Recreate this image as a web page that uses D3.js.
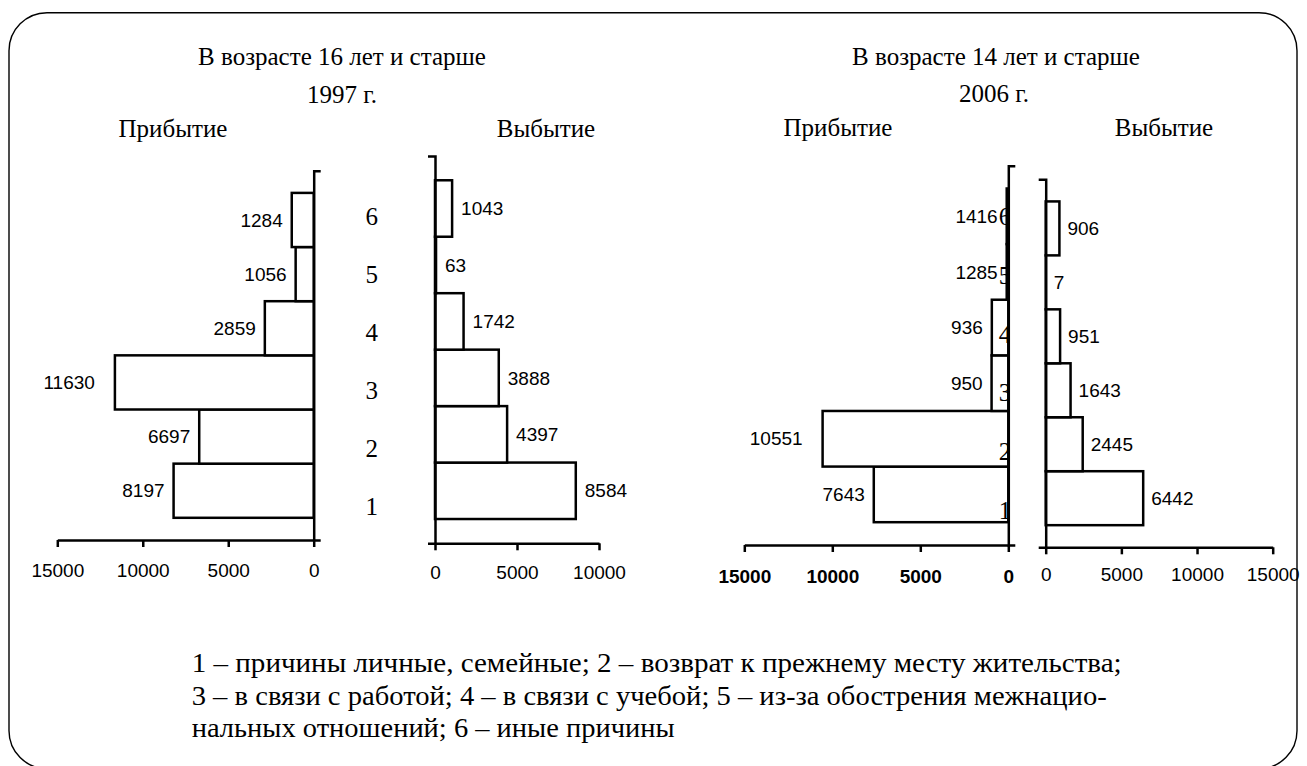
<!DOCTYPE html>
<html>
<head>
<meta charset="utf-8">
<script src="https://cdn.jsdelivr.net/npm/d3@7"></script>
<style>
body{margin:0;background:#fff}
</style>
</head>
<body>
<div id="chart"></div>
<script>
// reasons 1..6, bottom to top
var cats = ["1", "2", "3", "4", "5", "6"];
var arrive1997 = [8197, 6697, 11630, 2859, 1056, 1284];
var depart1997 = [8584, 4397, 3888, 1742, 63, 1043];
// 2006 arrivals: printed labels, and the bar lengths as drawn (5 and 6 are almost flat in the original)
var arrive2006 = [7643, 10551, 950, 936, 1285, 1416];
var arrive2006Bars = [7643, 10551, 950, 936, 90, 90];
var depart2006 = [6442, 2445, 1643, 951, 7, 906];
var ticks15 = [0, 5000, 10000, 15000];
var ticks10 = [0, 5000, 10000];
var legendLines = [
  "1 – причины личные, семейные; 2 – возврат к прежнему месту жительства;",
  "3 – в связи с работой; 4 – в связи с учебой; 5 – из-за обострения межнацио-",
  "нальных отношений; 6 – иные причины"
];

var W = 1307, H = 766;
var svg = d3.select("#chart").append("svg")
  .attr("width", W).attr("height", H)
  .style("font-family", "'Liberation Serif','Times New Roman',serif");

svg.append("rect").attr("width", W).attr("height", H).attr("fill", "#fff");

// rounded frame, its bottom edge sits just below the picture
svg.append("rect")
  .attr("x", 9).attr("y", 12.7)
  .attr("width", 1288).attr("height", 756)
  .attr("rx", 38).attr("ry", 38)
  .attr("fill", "none").attr("stroke", "#000").attr("stroke-width", 1.4);

function txt(s, x, y, size, anchor){
  return svg.append("text").attr("x", x).attr("y", y)
    .attr("font-size", size).attr("text-anchor", anchor || "middle")
    .attr("fill", "#000").text(s);
}

// headings
txt("В возрасте 16 лет и старше", 342, 65, 25);
txt("1997 г.", 342, 103, 25);
txt("Прибытие", 173, 136.7, 25);
txt("Выбытие", 546, 136.7, 25);
txt("В возрасте 14 лет и старше", 996, 65, 25);
txt("2006 г.", 994, 101.7, 25);
txt("Прибытие", 838, 136, 25);
txt("Выбытие", 1164, 136, 25);

function panel(c){
  var x = d3.scaleLinear().domain([0, c.max]).range([c.zero, c.far]);
  var y = d3.scaleBand().domain(cats).range([c.bottom, c.top])
    .paddingInner(0).paddingOuter(c.pad);
  var toLeft = c.far < c.zero;
  var g = svg.append("g");

  g.selectAll("rect.bar").data(c.bars).enter().append("rect")
    .attr("class", "bar")
    .attr("x", function(d){ return Math.min(x(0), x(d)); })
    .attr("y", function(d, i){ return y(cats[i]); })
    .attr("width", function(d){ return Math.abs(x(d) - x(0)); })
    .attr("height", y.bandwidth())
    .attr("fill", "#fff").attr("stroke", "#000").attr("stroke-width", 2.5);

  g.selectAll("text.val").data(c.labels).enter().append("text")
    .attr("class", "val")
    .attr("x", function(d, i){
      var s = String(d), extra = s.length > 4 ? 11 : 0;
      return toLeft ? x(c.bars[i]) - c.gap - extra : x(c.bars[i]) + c.gap;
    })
    .attr("y", function(d, i){ return y(cats[i]) + y.bandwidth() / 2; })
    .attr("dy", "0.35em")
    .attr("text-anchor", toLeft ? "end" : "start")
    .style("font-family", "'Liberation Sans',Arial,sans-serif")
    .attr("font-size", 19)
    .text(function(d){ return d; });

  if (c.catX) {
    var cy = d3.scalePoint().domain(cats).range(c.catRange);
    var cg = g.append("g");
    if (c.clip) cg.attr("clip-path", "url(#" + c.clip + ")");
    cg.selectAll("text").data(cats).enter().append("text")
      .attr("x", c.catX)
      .attr("y", function(d){ return cy(d); })
      .attr("dy", "0.35em")
      .attr("text-anchor", "middle")
      .attr("font-size", 25)
      .text(function(d){ return d; });
  }

  var xa = g.append("g")
    .attr("transform", "translate(0," + c.bottom + ")")
    .call(d3.axisBottom(x).tickValues(c.ticks).tickSizeInner(7).tickSizeOuter(0)
      .tickPadding(c.tickPad).tickFormat(d3.format("d")));
  xa.selectAll("text")
    .style("font-family", "'Liberation Sans',Arial,sans-serif")
    .attr("font-size", 19)
    .attr("font-weight", c.bold ? "bold" : "normal");

  var ya = g.append("g")
    .attr("transform", "translate(" + c.zero + ",0)")
    .call((toLeft ? d3.axisRight(y) : d3.axisLeft(y)).tickValues([]).tickSizeOuter(7));

  g.selectAll(".domain, .tick line").attr("stroke", "#000").attr("stroke-width", 2.5);
}

// clip for the 2006 reason numbers, cut at the axis
svg.append("defs").append("clipPath").attr("id", "cut2006")
  .append("rect").attr("x", 980).attr("y", 150).attr("width", 29).attr("height", 400);

panel({zero: 313.7, far: 57.3, max: 15000, top: 170.7, bottom: 540, pad: 0.41,
  bars: arrive1997, labels: arrive1997, ticks: ticks15, tickPad: 17, gap: 9,
  catX: 371.7, catRange: [506.7, 216]});
panel({zero: 435, far: 599, max: 10000, top: 156, bottom: 543.3, pad: 0.43,
  bars: depart1997, labels: depart1997, ticks: ticks10, tickPad: 15, gap: 9});
panel({zero: 1008.3, far: 744.3, max: 15000, top: 165.7, bottom: 545, pad: 0.41,
  bars: arrive2006Bars, labels: arrive2006, ticks: ticks15, tickPad: 18, gap: 9, bold: true,
  catX: 1005, catRange: [510, 216.7], clip: "cut2006"});
panel({zero: 1045.7, far: 1272.7, max: 15000, top: 179.3, bottom: 547.3, pad: 0.41,
  bars: depart2006, labels: depart2006, ticks: ticks15, tickPad: 13, gap: 8});

// legend (the original is set a little wider than the plain font)
var legendWidths = [930, 915, 483];
legendLines.forEach(function(s, i){
  txt(s, 191.7, [671.7, 705, 736.7][i], 27, "start")
    .attr("textLength", legendWidths[i])
    .attr("lengthAdjust", "spacingAndGlyphs");
});
</script>
</body>
</html>
